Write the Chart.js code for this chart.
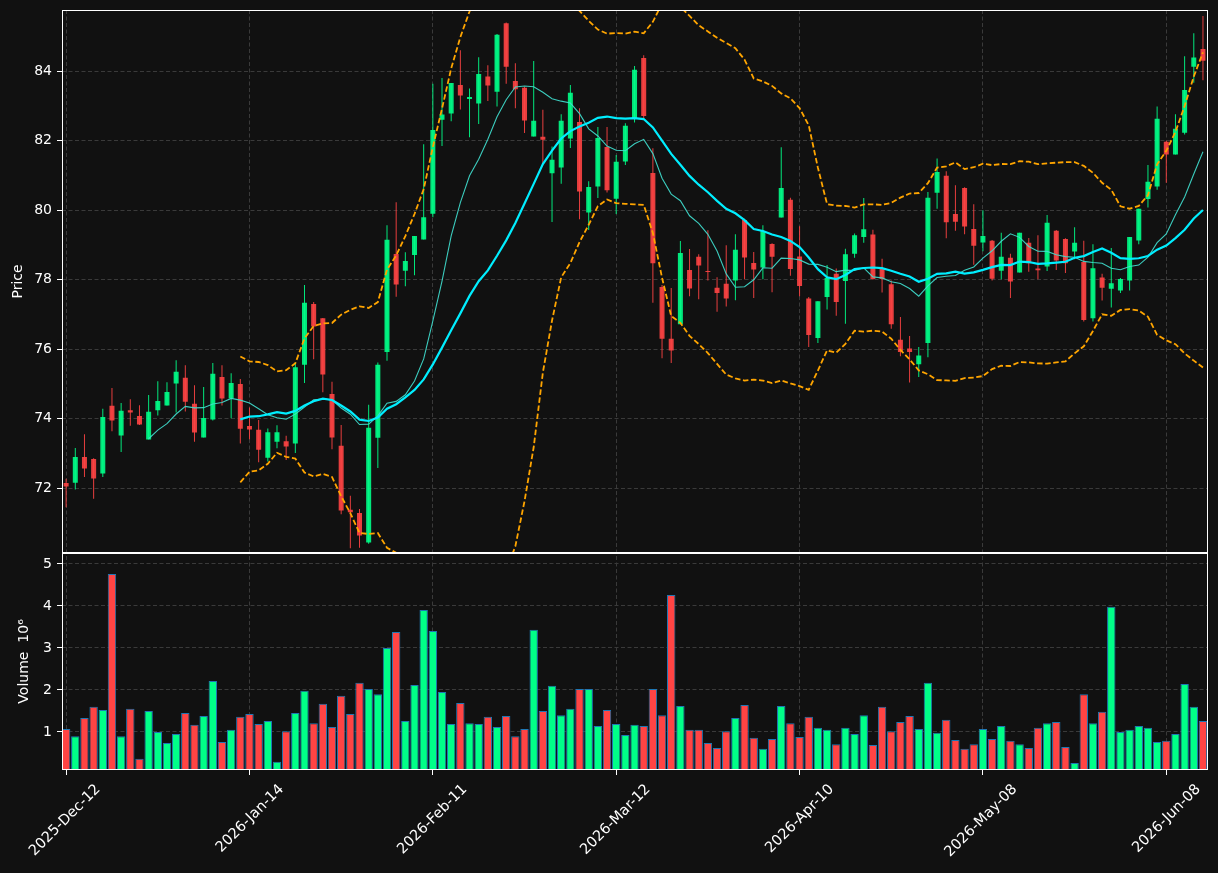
<!DOCTYPE html>
<html>
<head>
<meta charset="utf-8">
<script src="https://cdn.jsdelivr.net/npm/chart.js@4.4.1/dist/chart.umd.min.js"></script>
<style>
html,body{margin:0;padding:0;background:#111111;}
#wrap{width:1218px;height:873px;position:relative;}
canvas{display:block;}
</style>
</head>
<body>
<div id="wrap"><canvas id="c" width="1218" height="873"></canvas></div>
<script>
// ---- data ----
const tickDates = ['2025-Dec-12','2026-Jan-14','2026-Feb-11','2026-Mar-12','2026-Apr-10','2026-May-08','2026-Jun-08'];

const opens = [72.15,72.16,72.90,72.84,72.42,74.37,73.52,74.24,74.08,73.40,
74.24,74.38,75.01,75.18,74.43,73.46,73.98,75.20,74.58,75.00,
73.79,73.68,72.88,73.34,73.35,73.29,75.55,77.30,76.89,74.71,
73.22,71.38,71.29,70.44,73.45,75.92,78.74,78.26,78.71,79.16,
79.90,82.60,82.78,83.60,83.20,83.07,83.85,83.41,85.38,83.72,
83.52,82.12,82.11,81.06,81.23,82.06,82.54,79.93,80.68,81.82,
80.33,81.40,82.65,84.38,81.07,77.79,76.30,76.72,78.28,78.66,
78.24,77.77,77.88,77.98,79.72,78.48,78.35,79.03,79.79,80.30,
78.67,77.46,76.32,77.50,78.17,77.96,78.75,79.23,79.30,78.31,
77.87,76.27,76.02,75.57,76.18,80.50,80.99,79.89,80.64,79.46,
79.07,79.12,78.26,78.63,78.21,79.06,78.32,78.38,79.41,79.17,
78.81,78.51,76.89,78.06,77.74,77.69,77.98,79.13,80.32,80.68,
81.97,81.60,82.23,84.13,84.64];

const highs = [72.27,73.16,73.55,72.86,74.29,74.88,74.45,74.56,74.39,74.68,
75.08,75.05,75.68,75.54,74.96,74.91,75.60,75.54,75.31,75.14,
74.32,73.96,73.72,73.81,73.51,75.62,77.85,77.36,76.90,75.06,
73.82,71.78,71.40,74.40,75.62,79.57,80.23,78.79,79.26,81.90,
83.64,83.80,83.66,84.60,83.50,84.40,84.17,85.07,85.40,84.23,
83.55,84.29,82.89,81.83,82.76,83.60,82.93,80.83,82.39,82.39,
81.59,82.50,84.15,84.46,81.78,77.85,77.76,79.11,78.88,78.73,
79.42,78.07,78.99,79.31,79.75,78.80,79.57,79.05,81.81,80.36,
79.54,77.50,77.38,78.42,78.32,78.89,79.33,80.35,79.44,78.60,
77.98,76.93,76.38,76.06,80.52,81.49,81.12,80.72,80.66,80.17,
80.00,79.14,79.35,78.75,79.35,79.20,79.28,79.86,79.43,79.19,
79.51,79.12,79.02,78.17,78.91,78.05,79.23,80.04,81.30,82.98,
82.00,82.76,84.43,85.09,85.59];

const lows = [71.45,71.96,72.32,71.70,72.32,73.64,73.04,73.80,73.82,73.40,
74.09,74.38,74.18,74.21,73.34,73.46,73.95,74.38,74.01,73.29,
73.41,72.75,72.77,73.15,72.81,73.01,75.03,75.71,74.76,73.12,
71.25,70.27,70.29,70.40,72.58,75.67,77.51,77.81,78.13,79.16,
79.80,81.85,82.56,82.90,82.10,82.48,83.14,82.98,83.64,82.93,
82.22,82.12,81.35,79.66,80.76,81.79,79.74,79.43,80.35,80.51,
79.89,81.30,82.52,82.65,77.34,75.74,75.60,76.72,77.52,77.44,
77.98,77.08,77.23,77.41,78.01,77.47,78.01,77.64,79.79,78.11,
77.52,76.06,76.18,77.14,76.96,76.73,78.63,79.06,78.00,77.63,
76.59,75.80,75.04,75.20,75.77,80.04,79.19,79.41,79.31,78.43,
78.82,77.98,78.01,77.47,78.21,78.23,78.01,78.25,78.28,78.19,
78.59,76.80,76.80,77.40,77.20,77.62,77.69,79.02,80.08,80.59,
80.79,81.60,82.18,83.67,83.74];

const closes = [72.05,72.90,72.57,72.28,74.05,73.95,74.23,74.18,73.83,74.20,
74.51,74.77,75.35,74.49,73.60,74.02,75.29,74.58,75.03,73.71,
73.69,73.11,73.61,73.61,73.20,75.48,77.34,76.65,75.27,73.46,
71.36,71.31,70.64,73.74,75.55,79.15,77.86,78.54,79.26,79.80,
82.31,82.75,83.66,83.30,83.26,83.92,83.59,85.05,84.13,83.48,
82.58,82.57,82.03,81.45,82.57,83.38,80.54,80.67,82.08,80.57,
81.39,82.43,84.04,82.71,78.47,76.30,75.96,78.77,77.75,78.41,
78.22,77.62,77.46,78.86,78.64,78.29,79.40,78.66,80.64,78.31,
77.82,76.41,77.38,78.05,77.36,78.73,79.28,79.45,78.02,78.02,
76.72,75.92,75.92,75.82,80.36,81.10,79.65,79.67,79.53,78.98,
79.26,78.03,78.66,77.95,79.35,78.47,78.27,79.64,78.55,78.47,
79.06,76.84,78.33,77.77,77.90,78.02,79.23,80.04,80.82,82.63,
81.60,82.34,83.46,84.39,84.30];

// volume in millions
const volumes = [1.07,0.90,1.33,1.60,1.52,4.76,0.90,1.55,0.36,1.50,
1.00,0.74,0.95,1.45,1.17,1.38,2.21,0.76,1.05,1.36,
1.43,1.19,1.26,0.29,1.02,1.45,1.98,1.21,1.67,1.12,
1.86,1.43,2.17,2.02,1.90,3.00,3.38,1.26,2.12,3.90,
3.40,1.95,1.19,1.69,1.21,1.19,1.36,1.12,1.38,0.90,
1.07,3.43,1.50,2.10,1.40,1.55,2.02,2.02,1.14,1.52,
1.19,0.93,1.17,1.14,2.02,1.40,4.26,1.62,1.05,1.05,
0.74,0.62,1.02,1.33,1.64,0.86,0.60,0.83,1.62,1.21,
0.88,1.36,1.10,1.05,0.71,1.10,0.95,1.40,0.69,1.60,
1.02,1.24,1.38,1.07,2.17,0.98,1.29,0.81,0.60,0.71,
1.07,0.83,1.14,0.79,0.71,0.62,1.10,1.21,1.24,0.64,
0.26,1.90,1.21,1.48,3.98,1.00,1.05,1.14,1.10,0.76,
0.79,0.95,2.14,1.60,1.26];

// ---- indicators derived from the closes (moving averages, Bollinger 20, 2σ) ----
function sma(arr, n, i){ let s=0; for(let k=i-n+1;k<=i;k++) s+=arr[k]; return s/n; }
function sd(arr, n, i){ const m=sma(arr,n,i); let s=0; for(let k=i-n+1;k<=i;k++) s+=(arr[k]-m)*(arr[k]-m); return Math.sqrt(s/n); }
const idx = closes.map((_, i) => i);
const ma10 = idx.map(i => ({x:i, y: i>=9 ? sma(closes,10,i) : null}));
const ma20 = idx.map(i => ({x:i, y: i>=19 ? sma(closes,20,i) : null}));
const bbUp = idx.map(i => ({x:i, y: i>=19 ? sma(closes,20,i)+2*sd(closes,20,i) : null}));
const bbDn = idx.map(i => ({x:i, y: i>=19 ? sma(closes,20,i)-2*sd(closes,20,i) : null}));

const UP = '#00ff88', DOWN = '#ff4444';
const UPC = 'rgba(0,255,136,0.9)', DOWNC = 'rgba(255,68,68,0.9)';
const isUp = idx.map(i => closes[i] >= opens[i]);

const bodies = idx.map(i => ({x:i, y:[opens[i], closes[i]]}));
const wicks = idx.map(i => ({x:i, y:[lows[i], highs[i]]}));
const vols = idx.map(i => ({x:i, y:volumes[i]}));

const FONT = {family:'DejaVu Sans', size:14};
Chart.defaults.font.family = 'DejaVu Sans';
Chart.defaults.color = '#ffffff';

const GRID = '#3a3a3a';
const DASH = [4, 2.5];

const panelClip = {
  id: 'panelClip',
  beforeDatasetDraw(chart, args) {
    const ys = chart.scales[args.meta.yAxisID];
    const a = chart.chartArea, ctx = chart.ctx;
    ctx.save();
    ctx.beginPath();
    ctx.rect(a.left, ys.top, a.right - a.left, ys.bottom - ys.top);
    ctx.clip();
  },
  afterDatasetDraw(chart) { chart.ctx.restore(); }
};

const panelBorders = {
  id: 'panelBorders',
  afterDatasetsDraw(chart) {
    const ctx = chart.ctx, a = chart.chartArea;
    ctx.save();
    ctx.strokeStyle = '#ffffff';
    ctx.lineWidth = 1;
    ['y','yv'].forEach(id => {
      const s = chart.scales[id];
      ctx.strokeRect(Math.round(a.left)+0.5, Math.round(s.top)+0.5, Math.round(a.right-a.left)-1, Math.round(s.bottom-s.top)-1);
    });
    ctx.restore();
  }
};

const fixY = (w) => function(s){ s.width = w; s.paddingTop = 0; s.paddingBottom = 0; };

new Chart(document.getElementById('c'), {
  type: 'bar',
  data: {
    datasets: [
      {type:'line', label:'MA20', data:ma20, yAxisID:'y', borderColor:'#00eeff', borderWidth:2.2, pointRadius:0, tension:0, spanGaps:false},
      {type:'line', label:'MA10', data:ma10, yAxisID:'y', borderColor:'rgba(64,224,208,0.9)', borderWidth:1.1, pointRadius:0, tension:0, spanGaps:false},
      {type:'line', label:'BB upper', data:bbUp, yAxisID:'y', borderColor:'#ffa500', borderWidth:1.8, borderDash:[5.5,2.6], pointRadius:0, tension:0, spanGaps:false},
      {type:'line', label:'BB lower', data:bbDn, yAxisID:'y', borderColor:'#ffa500', borderWidth:1.8, borderDash:[5.5,2.6], pointRadius:0, tension:0, spanGaps:false},
      {label:'body', data:bodies, yAxisID:'y', grouped:false, barThickness:5, minBarLength:1, inflateAmount:0, borderWidth:0,
        backgroundColor: idx.map(i => isUp[i] ? UPC : DOWNC)},
      {label:'wick', data:wicks, yAxisID:'y', grouped:false, barThickness:1, inflateAmount:0, borderWidth:0,
        backgroundColor: idx.map(i => isUp[i] ? UPC : DOWNC)},
      {label:'volume', data:vols, yAxisID:'yv', grouped:false, barThickness:8.4, inflateAmount:0, borderWidth:1, borderColor:'#1f77b4', borderSkipped:false,
        backgroundColor: idx.map(i => isUp[i] ? UP : DOWN)}
    ]
  },
  options: {
    responsive: false,
    animation: false,
    devicePixelRatio: 1,
    layout: {padding: {top: 10, right: 10, left: 0, bottom: 0}},
    plugins: {legend:{display:false}, tooltip:{enabled:false}},
    scales: {
      x: {
        type:'linear', position:'bottom', min:-0.45, max:124.55, offset:false,
        afterFit(s){ s.height = 103; s.paddingLeft = 0; s.paddingRight = 0; },
        ticks: {stepSize:20, includeBounds:false, autoSkip:false, maxRotation:45, minRotation:45,
          color:'#ffffff', font:{family:'DejaVu Sans', size:14.5}, padding:6, labelOffset:32,
          callback: v => tickDates[Math.round(v/20)] ?? ''},
        grid: {offset:false, color:GRID, lineWidth:1, tickColor:'#ffffff', tickLength:5, drawTicks:true},
        border: {display:false, dash:DASH}
      },
      yv: {
        type:'linear', position:'left', stack:'panels', stackWeight:1, min:0.095, max:5.262,
        afterFit: fixY(62),
        ticks: {stepSize:1, includeBounds:false, color:'#ffffff', font:FONT, padding:5},
        grid: {color:GRID, lineWidth:1, tickColor:'#ffffff', tickLength:5},
        border: {display:false, dash:DASH},
        title: {display:true, text:'Volume  10⁶', color:'#ffffff', font:FONT, padding:{top:16, bottom:0}}
      },
      y: {
        type:'linear', position:'left', stack:'panels', stackWeight:2.5, min:70.14, max:85.76,
        afterFit: fixY(62),
        ticks: {stepSize:2, includeBounds:false, color:'#ffffff', font:FONT, padding:5},
        grid: {color:GRID, lineWidth:1, tickColor:'#ffffff', tickLength:5},
        border: {display:false, dash:DASH},
        title: {display:true, text:'Price', color:'#ffffff', font:FONT, padding:{top:10, bottom:0}}
      }
    }
  },
  plugins: [panelClip, panelBorders]
});
</script>
</body>
</html>
